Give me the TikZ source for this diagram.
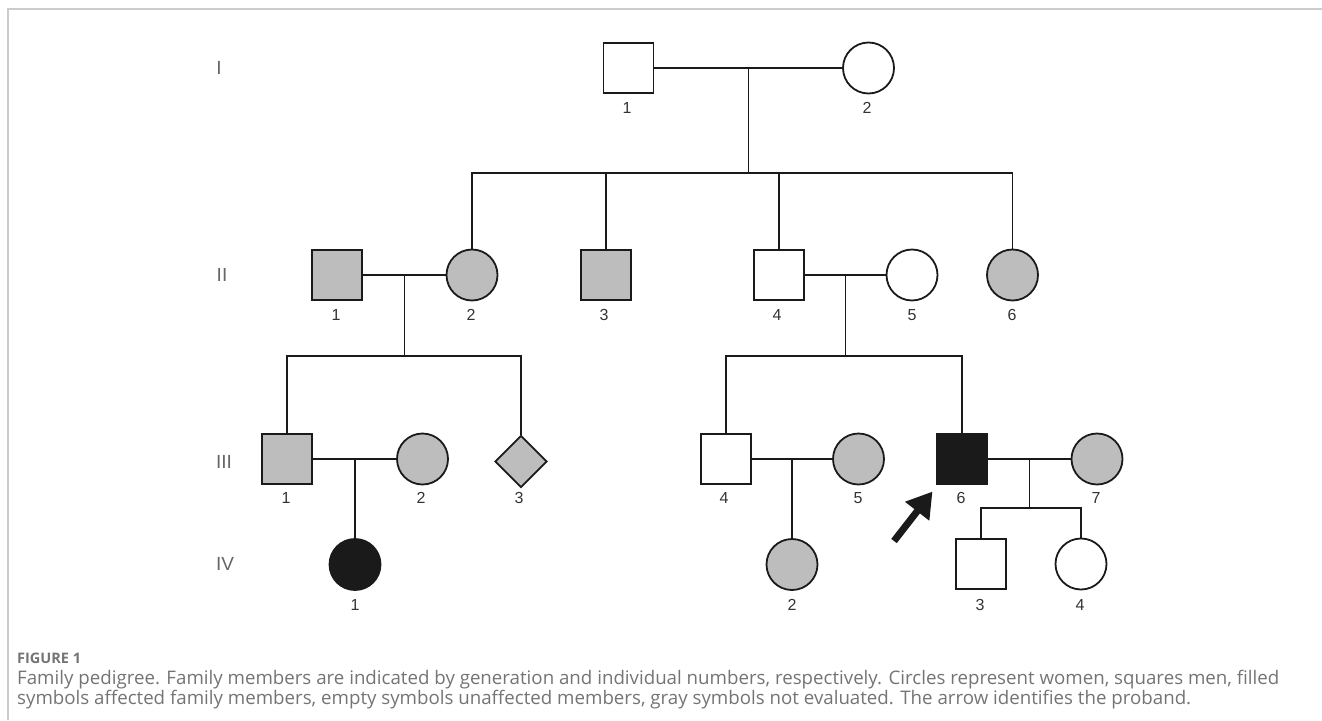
\documentclass[tikz,border=0pt]{standalone}
\usepackage{fontspec}
\setmainfont{Liberation Sans}
\newfontfamily\capfont{Open Sans}
\usetikzlibrary{shapes.geometric,arrows.meta,calc}
\definecolor{pedgray}{HTML}{BDBDBD}
\definecolor{pedblack}{HTML}{1A1A1A}
\definecolor{numcol}{HTML}{333333}
\definecolor{gencol}{HTML}{666666}
\definecolor{capcol}{HTML}{747474}
\definecolor{framecol}{HTML}{CCCCCC}
\tikzset{
  pline/.style={line width=1.8pt, draw=pedblack},
  person/.style={draw=pedblack, line width=1.8pt, inner sep=0pt, fill=white},
  male/.style={person, rectangle, minimum width=50pt, minimum height=50pt},
  female/.style={person, circle, minimum size=51pt},
  unknown/.style={person, diamond, minimum width=52pt, minimum height=52pt},
  grayfill/.style={fill=pedgray},
  blackfill/.style={fill=pedblack},
  num/.style={font=\fontsize{16}{16}\selectfont, text=numcol, inner sep=0pt},
  gen/.style={font=\fontsize{19}{19}\selectfont, text=gencol, inner sep=0pt},
  caphead/.style={font=\capfont\bfseries\fontsize{14.5}{16}\selectfont, text=capcol, inner sep=0pt, anchor=base west},
  captext/.style={font=\capfont\fontsize{18.7}{20}\selectfont, text=capcol, inner sep=0pt, anchor=base west},
  frameline/.style={draw=framecol, line width=1.4pt}
}
\begin{document}
\begin{tikzpicture}[x=1pt,y=-1pt]
\useasboundingbox (0,0) rectangle (1322,720);
% frame
\coordinate (frTL) at (8,9);
\coordinate (frTR) at (1322,9);
\coordinate (frBL) at (8,720);
\draw[frameline] (frTR) -- (frTL) -- (frBL);

% generation labels
\node[gen] (gI) at (219,68) {I};
\node[gen] (gII) at (222,275) {II};
\node[gen] (gIII) at (224,462) {III};
\node[gen] (gIV) at (225,564) {IV};

% generation I
\node[male] (i1) at (628.5,68) {};
\node[female] (i2) at (868.5,68) {};
\node[num] (li1) at (627,108) {1};
\node[num] (li2) at (867,108) {2};

% generation II
\node[male,grayfill] (ii1) at (337,275) {};
\node[female,grayfill] (ii2) at (472,275) {};
\node[male,grayfill] (ii3) at (606,275) {};
\node[male] (ii4) at (779,275) {};
\node[female] (ii5) at (912,275) {};
\node[female,grayfill] (ii6) at (1012.5,275) {};
\node[num] (lii1) at (336,315) {1};
\node[num] (lii2) at (471,315) {2};
\node[num] (lii3) at (604,315) {3};
\node[num] (lii4) at (777,315) {4};
\node[num] (lii5) at (912,315) {5};
\node[num] (lii6) at (1012,315) {6};

% generation III
\node[male,grayfill] (iii1) at (287,459) {};
\node[female,grayfill] (iii2) at (422.5,459) {};
\node[unknown,grayfill] (iii3) at (521,461.5) {};
\node[male] (iii4) at (726,459) {};
\node[female,grayfill] (iii5) at (858.5,459) {};
\node[male,blackfill] (iii6) at (962,459) {};
\node[female,grayfill] (iii7) at (1097,459) {};
\node[num] (liii1) at (286,498) {1};
\node[num] (liii2) at (421,498) {2};
\node[num] (liii3) at (519,498) {3};
\node[num] (liii4) at (724,498) {4};
\node[num] (liii5) at (858,498) {5};
\node[num] (liii6) at (961,498) {6};
\node[num] (liii7) at (1096,498) {7};

% generation IV
\node[female,blackfill] (iv1) at (355,564.5) {};
\node[female,grayfill] (iv2) at (792,564.5) {};
\node[male] (iv3) at (981,564) {};
\node[female] (iv4) at (1081,564) {};
\node[num] (liv1) at (355,605) {1};
\node[num] (liv2) at (792,605) {2};
\node[num] (liv3) at (980,605) {3};
\node[num] (liv4) at (1080,605) {4};

% couples and mating points
\draw[pline] (i1) -- (i2);
\coordinate (m1) at ($(i1)!0.5!(i2)$);
\draw[pline] (ii1) -- (ii2);
\coordinate (m2) at ($(ii1)!0.5!(ii2)$);
\draw[pline] (ii4) -- (ii5);
\coordinate (m3) at ($(ii4)!0.5!(ii5)$);
\draw[pline] (iii1) -- (iii2);
\coordinate (m4) at ($(iii1)!0.5!(iii2)$);
\draw[pline] (iii4) -- (iii5);
\coordinate (m5) at ($(iii4)!0.5!(iii5)$);
\draw[pline] (iii6) -- (iii7);
\coordinate (m6) at ($(iii6)!0.5!(iii7)$);

% sibship of I
\coordinate (s1) at ($(m1)+(0,105)$);
\draw[pline] (m1) -- (s1);
\draw[pline] (ii2.north) -- (ii2.north |- s1) -- (ii6.north |- s1) -- (ii6.north);
\draw[pline] (ii3.north |- s1) -- (ii3.north);
\draw[pline] (ii4.north |- s1) -- (ii4.north);

% sibship of II-1 x II-2
\coordinate (s2) at ($(m2)+(0,81)$);
\draw[pline] (m2) -- (s2);
\draw[pline] (iii1.north) -- (iii1.north |- s2) -- (iii3.north |- s2) -- (iii3.north);

% sibship of II-4 x II-5
\coordinate (s3) at ($(m3)+(0,81)$);
\draw[pline] (m3) -- (s3);
\draw[pline] (iii4.north) -- (iii4.north |- s3) -- (iii6.north |- s3) -- (iii6.north);

% children of III
\draw[pline] (m4) -- (m4 |- iv1.north);
\draw[pline] (m5) -- (m5 |- iv2.north);
\coordinate (s6) at ($(m6)+(0,49)$);
\draw[pline] (m6) -- (s6);
\draw[pline] (iv3.north) -- (iv3.north |- s6) -- (iv4.north |- s6) -- (iv4.north);

% proband arrow
\coordinate (arrtail) at (894,541);
\coordinate (arrtip) at (932.5,491.5);
\draw[line width=7pt, draw=pedblack, -{Triangle[length=25pt,width=29pt]}] (arrtail) -- (arrtip);

% caption
\node[caphead] (fig) at (17,663) {FIGURE 1};
\node[captext] (cap1) at (17,684) {Family pedigree. Family members are indicated by generation and individual numbers, respectively. Circles represent women, squares men, filled};
\node[captext] (cap2) at (17,704) {symbols affected family members, empty symbols unaffected members, gray symbols not evaluated. The arrow identifies the proband.};
\end{tikzpicture}
\end{document}
